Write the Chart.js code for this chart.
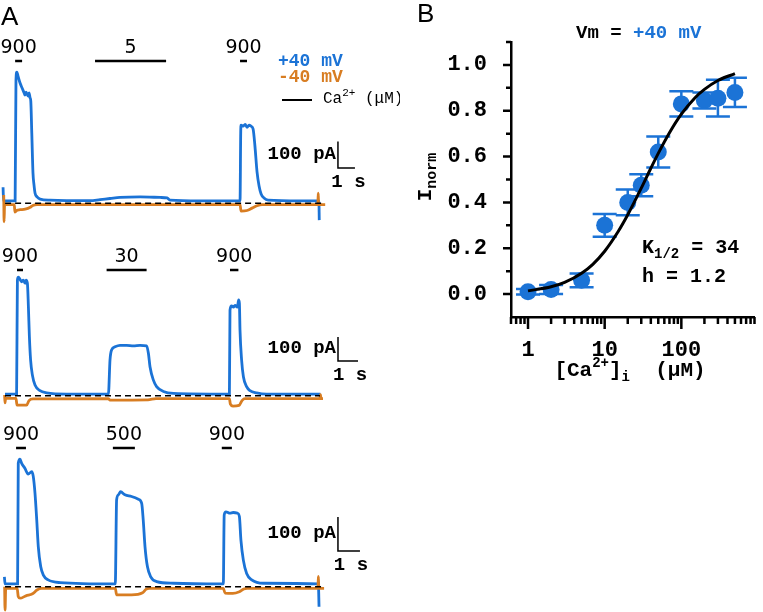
<!DOCTYPE html>
<html>
<head>
<meta charset="utf-8">
<script src="https://cdn.jsdelivr.net/npm/chart.js@4.4.1/dist/chart.umd.min.js"></script>
<style>
  body { margin: 0; background: #fff; }
  #wrap { position: relative; width: 763px; height: 612px; overflow: hidden; }
  canvas { position: absolute; }
</style>
</head>
<body>
<div id="wrap">
  <canvas id="trace1" width="400" height="230" style="left:0;top:0"></canvas>
  <canvas id="trace2" width="400" height="180" style="left:0;top:240px"></canvas>
  <canvas id="trace3" width="400" height="192" style="left:0;top:420px"></canvas>
  <canvas id="doseChart" width="363" height="390" style="left:400px;top:0"></canvas>
</div>
<script>
// ---- Panel A: current traces (time in s, current in pA) ----
// trace 1 : 900 / 5 / 900 uM
const t1Pos = [0, 0.03, 0.71, 0.76, 0.81, 0.88, 1.0, 1.12, 1.24, 1.29, 1.35, 1.41, 1.47, 1.53, 1.59, 1.63, 1.69, 1.76, 1.82, 1.88, 2.0, 2.18, 2.76, 5.12, 5.71, 6.29, 6.88, 8.06, 9.24, 9.65, 9.82, 11.59, 13.94, 13.98, 14.0, 14.12, 14.24, 14.35, 14.47, 14.59, 14.71, 14.82, 14.94, 15.06, 15.18, 15.35, 15.59, 17.47, 18.58, 18.6];
const i1Pos = [60, 9, 9, 462, 492, 477, 451, 432, 414, 406, 417, 410, 402, 414, 395, 384, 263, 114, 69, 39, 24, 16, 12, 10, 14, 18, 22, 24, 22, 20, 12, 9, 9, 265, 293, 289, 296, 285, 293, 289, 278, 212, 118, 65, 35, 20, 12, 9, 9, -63];
const t1Neg = [0.04, 0.06, 0.09, 0.66, 0.7, 0.82, 1.0, 1.3, 1.6, 1.75, 2.0, 13.94, 14.0, 14.35, 14.65, 14.94, 15.24, 18.52, 18.54, 18.56, 18.95];
const i1Neg = [31, -69, -5, -5, -33, -26, -24, -22, -15, -8, -5, -5, -29, -27, -18, -9, -5, -5, 38, -5, -5];
const zero1 = [0.12, 18.76];
const stim1Conc = ['900', '5', '900'];
const stim1On = [0.71, 5.41, 13.94];
const stim1Off = [1.12, 9.59, 14.35];

// trace 2 : 900 / 30 / 900 uM
const t2Pos = [0.05, 0.63, 0.67, 0.72, 0.8, 0.88, 0.97, 1.05, 1.1, 1.17, 1.22, 1.27, 1.33, 1.42, 1.55, 1.8, 2.13, 3.13, 5.17, 5.22, 5.3, 5.38, 5.55, 5.8, 6.13, 6.47, 6.8, 7.13, 7.22, 7.3, 7.47, 7.63, 7.97, 8.47, 11.13, 11.27, 11.3, 11.38, 11.47, 11.55, 11.67, 11.73, 11.77, 11.8, 11.88, 11.97, 12.13, 12.3, 12.63, 13.13, 15.82];
const i2Pos = [7, 7, 482, 494, 485, 475, 482, 469, 482, 469, 371, 246, 149, 86, 45, 21, 12, 7, 7, 7, 149, 191, 204, 210, 210, 208, 210, 208, 177, 121, 65, 38, 18, 10, 7, 7, 357, 374, 369, 377, 369, 399, 385, 274, 149, 79, 38, 21, 12, 7, 7];
const t2Neg = [0.03, 0.05, 0.08, 0.6, 0.65, 1.13, 1.25, 1.45, 5.22, 5.3, 7.2, 7.6, 11.27, 11.32, 11.45, 11.75, 11.9, 12.05, 15.8, 15.82, 15.85, 15.95];
const i2Neg = [3, -30, -11, -11, -39, -39, -20, -13, -12, -18, -17, -12, -12, -35, -43, -40, -20, -12, -12, 5, -12, -12];
const zero2 = [0.05, 15.8];
const stim2Conc = ['900', '30', '900'];
const stim2On = [0.65, 5.13, 11.3];
const stim2Off = [0.95, 7.13, 11.72];

// trace 3 : 900 / 500 / 900 uM
const t3Pos = [0.02, 0.05, 0.62, 0.65, 0.73, 0.8, 0.95, 1.1, 1.26, 1.33, 1.41, 1.49, 1.56, 1.67, 1.79, 2.01, 2.55, 4.97, 5.06, 5.12, 5.2, 5.3, 5.5, 5.8, 6.11, 6.26, 6.33, 6.41, 6.52, 6.67, 6.94, 7.7, 9.89, 9.97, 10.01, 10.09, 10.27, 10.42, 10.61, 10.7, 10.77, 10.88, 11.03, 11.26, 11.79, 14.29, 14.32];
const i3Pos = [29, 8, 8, 363, 375, 363, 348, 331, 338, 325, 275, 196, 118, 59, 34, 20, 12, 8, 8, 255, 270, 279, 270, 265, 257, 245, 196, 118, 59, 29, 15, 10, 8, 8, 211, 220, 216, 218, 216, 206, 137, 78, 39, 20, 10, 8, -59];
const t3Neg = [0.03, 0.05, 0.08, 0.6, 0.65, 0.73, 1.0, 1.3, 1.5, 1.7, 5.06, 5.12, 5.8, 6.3, 6.45, 6.6, 9.97, 10.05, 10.4, 10.7, 10.9, 11.05, 14.27, 14.29, 14.31, 14.55];
const i3Neg = [0, -69, -5, -5, -29, -34, -27, -21, -10, -5, -5, -24, -24, -18, -8, -5, -5, -19, -20, -15, -7, -5, -5, 30, -5, -5];
const zero3 = [0.05, 14.45];
const stim3Conc = ['900', '500', '900'];
const stim3On = [0.55, 4.95, 9.9];
const stim3Off = [1.0, 5.95, 10.36];

// ---- Panel B: normalised current vs [Ca2+]i ----
const caConc = [1, 2, 5, 10, 20, 30, 50, 100, 200, 300, 500];
const iNorm = [0.01, 0.02, 0.06, 0.30, 0.40, 0.475, 0.62, 0.83, 0.845, 0.855, 0.88];
const iErr = [0.012, 0.02, 0.03, 0.05, 0.056, 0.048, 0.068, 0.055, 0.035, 0.08, 0.064];
const fitConc = [1, 2, 3, 5, 7, 10, 15, 20, 30, 40, 50, 70, 100, 150, 200, 300, 500];
const fitNorm = [0.014, 0.032, 0.051, 0.091, 0.130, 0.187, 0.273, 0.346, 0.462, 0.549, 0.614, 0.704, 0.785, 0.856, 0.893, 0.932, 0.962];
const yTickVals = [0, 0.2, 0.4, 0.6, 0.8, 1.0];
const yMarkVals = [0, 0.1, 0.2, 0.3, 0.4, 0.5, 0.6, 0.7, 0.8, 0.9, 1.0, 1.1];
const xTickVals = [1, 10, 100];
const xMarkVals = [0.6, 0.7, 0.8, 0.9, 1, 2, 3, 4, 5, 6, 7, 8, 9, 10, 20, 30, 40, 50, 60, 70, 80, 90, 100, 200, 300, 400, 500, 600, 700, 800, 900];

const BLUE = '#1b73d6';
const ORANGE = '#d87d22';
const MONO = '"Liberation Mono", "DejaVu Sans Mono", monospace';
const SANS = '"DejaVu Sans", sans-serif';

const pairs = (xs, ys) => xs.map((v, i) => ({ x: v, y: ys[i] }));

// text with sub/superscript pieces: [text, fontSize, yShift, colour]
function drawPieces(ctx, pieces, x, y, weight, color, align) {
    let total = 0;
    pieces.forEach(p => {
        ctx.font = `${weight} ${p[1]}px ${MONO}`;
        total += ctx.measureText(p[0]).width;
    });
    let cx = align === 'center' ? x - total / 2 : x;
    pieces.forEach(p => {
        ctx.font = `${weight} ${p[1]}px ${MONO}`;
        ctx.fillStyle = p[3] || color;
        ctx.fillText(p[0], cx, y + p[2]);
        cx += ctx.measureText(p[0]).width;
    });
}

function traceDecor(tr) {
    return {
        id: 'traceDecor',
        afterDraw(chart) {
            const { ctx, scales: { x, y }, chartArea } = chart;
            ctx.save();
            // Ca2+ application bars + labels
            ctx.strokeStyle = '#000';
            ctx.lineWidth = 2.5;
            ctx.fillStyle = '#000';
            ctx.font = `19px ${SANS}`;
            ctx.textAlign = 'center';
            ctx.textBaseline = 'middle';
            const by = chartArea.top + tr.barY;
            tr.stim[0].forEach((lab, i) => {
                const x0 = x.getPixelForValue(tr.stim[1][i]);
                const x1 = x.getPixelForValue(tr.stim[2][i]);
                ctx.beginPath();
                ctx.moveTo(x0, by);
                ctx.lineTo(x1, by);
                ctx.stroke();
                ctx.fillText(lab, (x0 + x1) / 2, by - 13);
            });
            // scale bar: 100 pA / 1 s
            const sx = x.getPixelForValue(tr.bar[0]);
            const sx1 = x.getPixelForValue(tr.bar[0] + 1);
            const sy = y.getPixelForValue(tr.bar[1]);
            const sy1 = y.getPixelForValue(tr.bar[1] + 100);
            ctx.lineWidth = 1.5;
            ctx.beginPath();
            ctx.moveTo(sx, sy1);
            ctx.lineTo(sx, sy);
            ctx.lineTo(sx1, sy);
            ctx.stroke();
            ctx.font = `bold 19px ${MONO}`;
            ctx.textAlign = 'right';
            ctx.fillText('100 pA', sx - 2, (sy + sy1) / 2 - 1);
            ctx.textAlign = 'center';
            ctx.fillText('1 s', (sx + sx1) / 2 + 2, sy + 14);

            if (tr.legend) {
                ctx.font = `26px "Liberation Sans", Arial, sans-serif`;
                ctx.textAlign = 'left';
                ctx.textBaseline = 'alphabetic';
                ctx.fillText('A', 1, 25);
                ctx.textBaseline = 'middle';
                ctx.font = `bold 18px ${MONO}`;
                ctx.fillStyle = BLUE;
                ctx.fillText('+40 mV', 278, 61);
                ctx.fillStyle = ORANGE;
                ctx.fillText('-40 mV', 278, 77);
                ctx.strokeStyle = '#000';
                ctx.lineWidth = 2;
                ctx.beginPath();
                ctx.moveTo(282, 100);
                ctx.lineTo(312, 100);
                ctx.stroke();
                drawPieces(ctx, [['Ca', 16, 0], ['2+', 11, -6], [' (\u03bcM)', 16, 0]], 323, 99, 'normal', '#000', 'left');
            }
            ctx.restore();
        }
    };
}

const traces = [
    { id: 'trace1', pos: [t1Pos, i1Pos], neg: [t1Neg, i1Neg], zero: zero1, stim: [stim1Conc, stim1On, stim1Off],
      xMin: -0.18, xMax: 23.35, yMin: -100, yMax: 762, barY: 61, bar: [19.7, 132], legend: true },
    { id: 'trace2', pos: [t2Pos, i2Pos], neg: [t2Neg, i2Neg], zero: zero2, stim: [stim2Conc, stim2On, stim2Off],
      xMin: -0.2, xMax: 19.8, yMin: -101, yMax: 649, barY: 30, bar: [16.7, 145] },
    { id: 'trace3', pos: [t3Pos, i3Pos], neg: [t3Neg, i3Neg], zero: zero3, stim: [stim3Conc, stim3On, stim3Off],
      xMin: -0.18, xMax: 18.0, yMin: -74.5, yMax: 490, barY: 28, bar: [15.18, 105] }
];

traces.forEach(tr => {
    new Chart(document.getElementById(tr.id), {
        type: 'line',
        data: {
            datasets: [
                { data: pairs(tr.pos[0], tr.pos[1]), borderColor: BLUE, borderWidth: 2.8, order: 3 },
                { data: pairs(tr.neg[0], tr.neg[1]), borderColor: ORANGE, borderWidth: 2.8, order: 2 },
                { data: pairs(tr.zero, [0, 0]), borderColor: '#000', borderWidth: 1.5, borderDash: [6, 4], order: 1 }
            ]
        },
        options: {
            responsive: false,
            animation: false,
            events: [],
            layout: { padding: 0 },
            elements: { point: { radius: 0 }, line: { cubicInterpolationMode: 'monotone' } },
            plugins: { legend: { display: false }, tooltip: { enabled: false } },
            scales: {
                x: { type: 'linear', display: false, min: tr.xMin, max: tr.xMax },
                y: { type: 'linear', display: false, min: tr.yMin, max: tr.yMax }
            }
        },
        plugins: [traceDecor(tr)]
    });
});

// error bars, tick marks and labels of panel B
const doseDecor = {
    id: 'doseDecor',
    beforeDatasetsDraw(chart) {
        const { ctx, scales: { x, y } } = chart;
        ctx.save();
        ctx.strokeStyle = BLUE;
        ctx.lineWidth = 2.5;
        caConc.forEach((c, i) => {
            const px = x.getPixelForValue(c);
            const top = y.getPixelForValue(iNorm[i] + iErr[i]);
            const bot = y.getPixelForValue(iNorm[i] - iErr[i]);
            ctx.beginPath();
            ctx.moveTo(px, top); ctx.lineTo(px, bot);
            ctx.moveTo(px - 12, top); ctx.lineTo(px + 12, top);
            ctx.moveTo(px - 12, bot); ctx.lineTo(px + 12, bot);
            ctx.stroke();
        });
        ctx.restore();
    },
    afterDraw(chart) {
        const { ctx, scales: { x, y }, chartArea } = chart;
        ctx.save();
        ctx.strokeStyle = '#000';
        ctx.lineWidth = 2.5;
        ctx.beginPath();
        yMarkVals.forEach(v => {
            const py = y.getPixelForValue(v);
            const len = yTickVals.some(t => Math.abs(t - v) < 1e-6) ? 8 : 5;
            ctx.moveTo(chartArea.left, py);
            ctx.lineTo(chartArea.left - len, py);
        });
        xMarkVals.forEach(v => {
            const px = x.getPixelForValue(v);
            const len = xTickVals.includes(v) ? 12 : 7;
            ctx.moveTo(px, chartArea.bottom);
            ctx.lineTo(px, chartArea.bottom + len);
        });
        ctx.stroke();

        ctx.fillStyle = '#000';
        ctx.textBaseline = 'alphabetic';
        ctx.textAlign = 'left';
        ctx.font = `26px "Liberation Sans", Arial, sans-serif`;
        ctx.fillText('B', 17, 22);

        ctx.textBaseline = 'middle';
        drawPieces(ctx, [['Vm = ', 19, 0], ['+40 mV', 19, 0, BLUE]], 176, 33, 'bold', '#000', 'left');
        drawPieces(ctx, [['K', 20, 0], ['1/2', 14, 6], [' = 34', 20, 0]], 242, 248, 'bold', '#000', 'left');
        drawPieces(ctx, [['h = 1.2', 20, 0]], 242, 277, 'bold', '#000', 'left');
        drawPieces(ctx, [['[Ca', 21, 0], ['2+', 14, -8], [']', 21, 0], ['i', 14, 6], ['  (\u03bcM)', 21, 0]], 230, 371, 'bold', '#000', 'center');

        ctx.translate(32, 177);
        ctx.rotate(-Math.PI / 2);
        drawPieces(ctx, [['I', 21, 0], ['norm', 15, 6]], 0, -6, 'bold', '#000', 'center');
        ctx.restore();
    }
};

new Chart(document.getElementById('doseChart'), {
    type: 'scatter',
    data: {
        datasets: [
            { type: 'line', data: pairs(fitConc, fitNorm), borderColor: '#000', borderWidth: 3, pointRadius: 0,
              cubicInterpolationMode: 'monotone', order: 1 },
            { type: 'scatter', data: pairs(caConc, iNorm), backgroundColor: BLUE, borderWidth: 0, pointRadius: 8.5, order: 2 }
        ]
    },
    options: {
        responsive: false,
        animation: false,
        events: [],
        layout: { padding: { top: 42, right: 1, left: 0, bottom: 0 } },
        plugins: { legend: { display: false }, tooltip: { enabled: false } },
        scales: {
            x: {
                type: 'logarithmic', min: 0.6, max: 900,
                grid: { display: false },
                border: { display: true, color: '#000', width: 2.5 },
                ticks: { color: '#000', font: { family: MONO, size: 22, weight: 'bold' }, padding: 12,
                         autoSkip: false, maxRotation: 0, callback: v => String(v) },
                afterBuildTicks: s => { s.ticks = xTickVals.map(v => ({ value: v })); },
                afterFit: s => { s.height = 73; }
            },
            y: {
                type: 'linear', min: -0.1, max: 1.1,
                grid: { display: false },
                border: { display: true, color: '#000', width: 2.5 },
                ticks: { color: '#000', font: { family: MONO, size: 22, weight: 'bold' }, padding: 16,
                         autoSkip: false, callback: v => v.toFixed(1) },
                afterBuildTicks: s => { s.ticks = yTickVals.map(v => ({ value: v })); },
                afterFit: s => { s.width = 111; }
            }
        }
    },
    plugins: [doseDecor]
});
</script>
</body>
</html>
